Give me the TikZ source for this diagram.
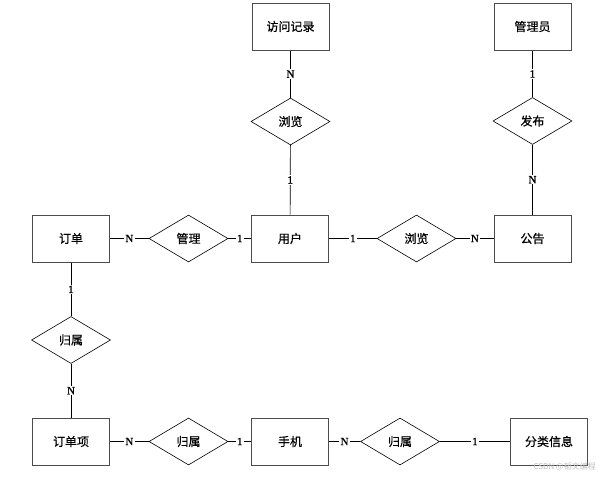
\documentclass[tikz,border=0pt]{standalone}
\usepackage{fontspec}
\usetikzlibrary{shapes.geometric}
\newfontfamily\cjk[FakeBold=0.6]{Noto Sans CJK SC}
\newfontfamily\cjkwm{Noto Sans CJK SC}
\newfontfamily\cardf[FakeBold=1.5]{Liberation Serif}
\begin{document}
\begin{tikzpicture}[x=1pt,y=-1pt,
  entity/.style={draw=black!70, line width=1pt, minimum width=77pt, minimum height=47pt, inner sep=0pt, font=\cjk\fontsize{12}{12}\selectfont},
  rel/.style={draw=black, line width=0.6pt, diamond, aspect=1.65, minimum width=79pt, minimum height=47pt, inner sep=0pt, font=\cjk\fontsize{12}{12}\selectfont},
  card/.style={fill=white, inner sep=1.2pt, font=\cardf\fontsize{11}{11}\selectfont},
  link/.style={draw=black, line width=0.7pt}]
\useasboundingbox (0,0) rectangle (599,477);
% entities
\node[entity] (fwjl) at (290.5,26.5) {访问记录};
\node[entity] (gly) at (532.5,26.5) {管理员};
\node[entity] (dd) at (71,238.5) {订单};
\node[entity] (yh) at (290,238.5) {用户};
\node[entity] (gg) at (532.5,238.5) {公告};
\node[entity] (ddx) at (71,441.5) {订单项};
\node[entity] (sj) at (290,441.5) {手机};
\node[entity] (flxx) at (549,441.5) {分类信息};
% relationships
\node[rel] (ll1) at (290.5,121.5) {浏览};
\node[rel] (fb) at (532.5,121) {发布};
\node[rel] (gl) at (188.5,238.5) {管理};
\node[rel] (ll2) at (416.5,238.5) {浏览};
\node[rel] (gs1) at (71,340) {归属};
\node[rel] (gs2) at (188.5,441.5) {归属};
\node[rel] (gs3) at (400,441.5) {归属};
% connectors
\draw[link] (fwjl) -- node[card] {N} (ll1);
\draw[link] (ll1) -- node[card] {1} (yh);
\draw[link] (gly) -- node[card] {1} (fb);
\draw[link] (fb) -- node[card] {N} (gg);
\draw[link] (dd) -- node[card] {N} (gl);
\draw[link] (gl) -- node[card] {1} (yh);
\draw[link] (yh) -- node[card] {1} (ll2);
\draw[link] (ll2) -- node[card] {N} (gg);
\draw[link] (dd) -- node[card] {1} (gs1);
\draw[link] (gs1) -- node[card] {N} (ddx);
\draw[link] (ddx) -- node[card] {N} (gs2);
\draw[link] (gs2) -- node[card] {1} (sj);
\draw[link] (sj) -- node[card] {N} (gs3);
\draw[link] (gs3) -- node[card] {1} (flxx);
% watermark
\node[text=black!25, font=\cjkwm\fontsize{8}{8}\selectfont, anchor=east, inner sep=0pt] (wm) at (596,467) {CSDN @韬文编程};
\end{tikzpicture}
\end{document}
